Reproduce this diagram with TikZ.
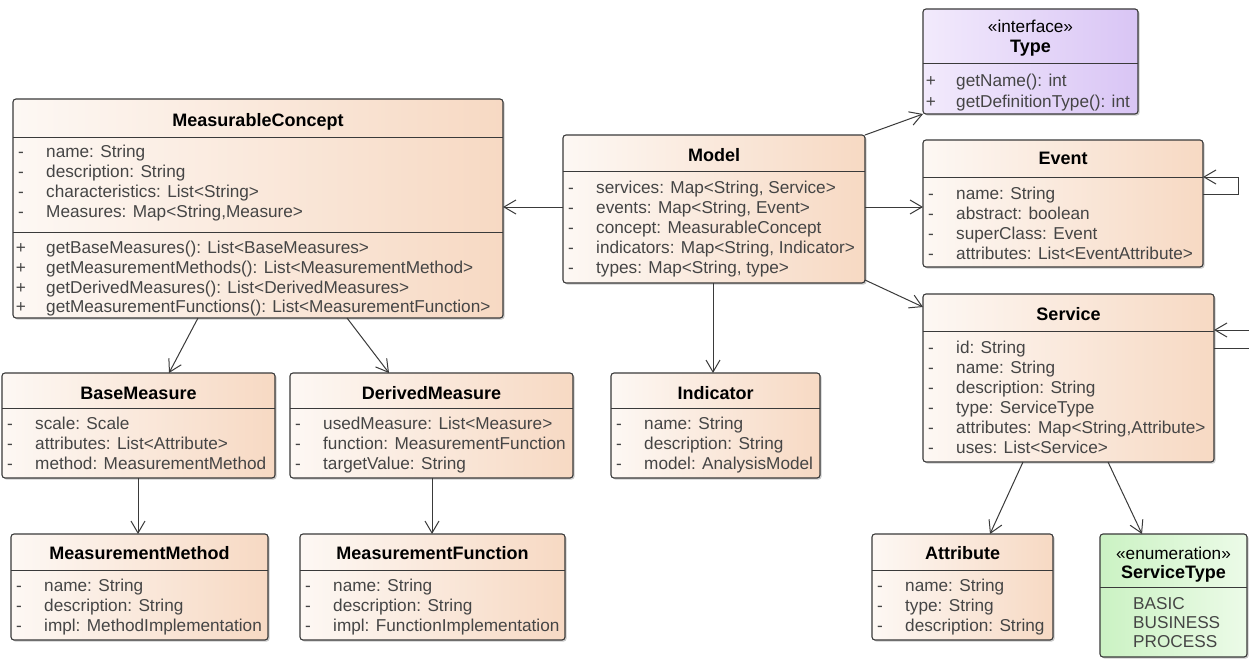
\documentclass[tikz,border=0pt]{standalone}
\usepackage{fontspec}
\setmainfont{Liberation Sans}
\usetikzlibrary{arrows.meta,shadows,calc}
\definecolor{peachL}{HTML}{FDF8F4}
\definecolor{peachR}{HTML}{F7D9C3}
\definecolor{purpL}{HTML}{F2EAFC}
\definecolor{purpR}{HTML}{D9C5F5}
\definecolor{grnL}{HTML}{CBF2C3}
\definecolor{grnR}{HTML}{ECFBE8}
\definecolor{edge}{HTML}{3A3A3A}
\definecolor{txt}{HTML}{454545}
\tikzset{
  box/.style={draw=edge, line width=1.1pt, rounded corners=3pt, inner sep=0pt, outer sep=0pt,
    drop shadow={shadow xshift=1.6pt, shadow yshift=-1.6pt, fill=black!40}},
  peach/.style={left color=peachL, right color=peachR},
  purple/.style={left color=purpL, right color=purpR},
  green/.style={left color=grnL, right color=grnR},
  divline/.style={draw=edge, line width=1pt},
  attr/.style={anchor=base west, inner sep=0pt, text=txt, font=\fontsize{17.2}{20}\selectfont},
  vis/.style={anchor=base, inner sep=0pt, text=txt, font=\fontsize{17.2}{20}\selectfont},
  ctitle/.style={anchor=base, inner sep=0pt, text=black, font=\bfseries\fontsize{18}{20}\selectfont},
  stereo/.style={anchor=base, inner sep=0pt, text=black, font=\fontsize{17.2}{20}\selectfont},
  assoc/.style={draw=edge, line width=1pt, -{Straight Barb[length=12pt,width=14pt]}},
}
\newcommand\umlclass[6]{%
  \node[box,#6,anchor=north west,minimum width={#4-#2}, minimum height={#5-#3}] (#1) at (#2,#3) {};}
\newcommand\urow[4]{%
  \node[vis] (#1v) at (\cl+8,#2+6) {#3};
  \node[attr] (#1) at (\cl+33,#2+6) {#4};}
\newcommand\hdiv[2]{\draw[divline] (#1.west |- 0,#2) -- (#1.east |- 0,#2);}
\begin{document}
\begin{tikzpicture}[x=1pt,y=-1pt]
\useasboundingbox (0,0) rectangle (1249,658);
\fill[white] (0,0) rectangle (1249,658);
\clip (0,0) rectangle (1249,658);

% ---------- classes ----------
\umlclass{type}{923}{9}{1138}{114}{purple}
\umlclass{mc}{13}{99}{503}{318}{peach}
\umlclass{model}{563}{135}{865}{283}{peach}
\umlclass{event}{923}{140}{1203}{267}{peach}
\umlclass{svc}{923}{294}{1214}{462}{peach}
\umlclass{bm}{2}{373}{275}{478}{peach}
\umlclass{dm}{290}{373}{573}{478}{peach}
\umlclass{ind}{611}{373}{820}{478}{peach}
\umlclass{mm}{11}{534}{268}{640}{peach}
\umlclass{mf}{300}{534}{565}{640}{peach}
\umlclass{attr}{872}{534}{1053}{640}{peach}
\umlclass{st}{1100}{534}{1247}{657}{green}

% ---------- Type ----------
\node[stereo] (type-s) at (1030.5,33) {«interface»};
\node[ctitle] (type-t) at (1030.5,53) {Type};
\hdiv{type}{64}
\def\cl{923}
\urow{type-1}{81}{+}{getName(): int}
\urow{type-2}{101}{+}{getDefinitionType(): int}

% ---------- MeasurableConcept ----------
\node[ctitle] (mc-t) at (258,126) {MeasurableConcept};
\hdiv{mc}{137}
\hdiv{mc}{232}
\def\cl{13}
\urow{mc-1}{151}{-}{name: String}
\urow{mc-2}{171}{-}{description: String}
\urow{mc-3}{191}{-}{characteristics: List<String>}
\urow{mc-4}{211}{-}{Measures: Map<String,Measure>}
\urow{mc-5}{247}{+}{getBaseMeasures(): List<BaseMeasures>}
\urow{mc-6}{267}{+}{getMeasurementMethods(): List<MeasurementMethod>}
\urow{mc-7}{287}{+}{getDerivedMeasures(): List<DerivedMeasures>}
\urow{mc-8}{306}{+}{getMeasurementFunctions(): List<MeasurementFunction>}

% ---------- Model ----------
\node[ctitle] (model-t) at (714,161) {Model};
\hdiv{model}{171}
\def\cl{563}
\urow{model-1}{187}{-}{services: Map<String, Service>}
\urow{model-2}{207}{-}{events: Map<String, Event>}
\urow{model-3}{227}{-}{concept: MeasurableConcept}
\urow{model-4}{247}{-}{indicators: Map<String, Indicator>}
\urow{model-5}{267}{-}{types: Map<String, type>}

% ---------- Event ----------
\node[ctitle] (event-t) at (1063,164) {Event};
\hdiv{event}{177}
\def\cl{923}
\urow{event-1}{193}{-}{name: String}
\urow{event-2}{213}{-}{abstract: boolean}
\urow{event-3}{233}{-}{superClass: Event}
\urow{event-4}{253}{-}{attributes: List<EventAttribute>}

% ---------- Service ----------
\node[ctitle] (svc-t) at (1068.5,320) {Service};
\hdiv{svc}{331}
\def\cl{923}
\urow{svc-1}{347}{-}{id: String}
\urow{svc-2}{367}{-}{name: String}
\urow{svc-3}{387}{-}{description: String}
\urow{svc-4}{407}{-}{type: ServiceType}
\urow{svc-5}{427}{-}{attributes: Map<String,Attribute>}
\urow{svc-6}{447}{-}{uses: List<Service>}

% ---------- BaseMeasure ----------
\node[ctitle] (bm-t) at (138.5,399) {BaseMeasure};
\hdiv{bm}{408}
\def\cl{2}
\urow{bm-1}{423}{-}{scale: Scale}
\urow{bm-2}{443}{-}{attributes: List<Attribute>}
\urow{bm-3}{463}{-}{method: MeasurementMethod}

% ---------- DerivedMeasure ----------
\node[ctitle] (dm-t) at (431.5,399) {DerivedMeasure};
\hdiv{dm}{408}
\def\cl{290}
\urow{dm-1}{423}{-}{usedMeasure: List<Measure>}
\urow{dm-2}{443}{-}{function: MeasurementFunction}
\urow{dm-3}{463}{-}{targetValue: String}

% ---------- Indicator ----------
\node[ctitle] (ind-t) at (715.5,399) {Indicator};
\hdiv{ind}{408}
\def\cl{611}
\urow{ind-1}{423}{-}{name: String}
\urow{ind-2}{443}{-}{description: String}
\urow{ind-3}{463}{-}{model: AnalysisModel}

% ---------- MeasurementMethod ----------
\node[ctitle] (mm-t) at (139.5,559) {MeasurementMethod};
\hdiv{mm}{570}
\def\cl{11}
\urow{mm-1}{585}{-}{name: String}
\urow{mm-2}{605}{-}{description: String}
\urow{mm-3}{625}{-}{impl: MethodImplementation}

% ---------- MeasurementFunction ----------
\node[ctitle] (mf-t) at (432.5,559) {MeasurementFunction};
\hdiv{mf}{570}
\def\cl{300}
\urow{mf-1}{585}{-}{name: String}
\urow{mf-2}{605}{-}{description: String}
\urow{mf-3}{625}{-}{impl: FunctionImplementation}

% ---------- Attribute ----------
\node[ctitle] (attr-t) at (962.5,559) {Attribute};
\hdiv{attr}{570}
\def\cl{872}
\urow{attr-1}{585}{-}{name: String}
\urow{attr-2}{605}{-}{type: String}
\urow{attr-3}{625}{-}{description: String}

% ---------- ServiceType ----------
\node[stereo] (st-s) at (1173.5,559) {«enumeration»};
\node[ctitle] (st-t) at (1173.5,578) {ServiceType};
\hdiv{st}{587}
\node[attr] (st-1) at (1133,609) {BASIC};
\node[attr] (st-2) at (1133,628) {BUSINESS};
\node[attr] (st-3) at (1133,647) {PROCESS};

% ---------- connectors ----------
\draw[assoc] (model.west |- 0,207) -- (mc.east |- 0,207);
\draw[assoc] (model.north east) -- (type.south west);
\draw[assoc] (model.east |- 0,207) -- (event.west |- 0,207);
\draw[assoc] (model.east |- 0,280) -- (svc.west |- 0,307);
\draw[assoc] (model.south -| 713,0) -- (ind.north -| 713,0);
\draw[assoc] (mc.south -| 198,0) -- (bm.north -| 169,0);
\draw[assoc] (mc.south -| 347,0) -- (dm.north -| 389,0);
\draw[assoc] (bm.south -| 138,0) -- (mm.north -| 138,0);
\draw[assoc] (dm.south -| 432,0) -- (mf.north -| 432,0);
\draw[assoc] (svc.south -| 1023,0) -- (attr.north -| 990,0);
\draw[assoc] (svc.south -| 1108,0) -- (st.north -| 1142,0);
\coordinate (el1) at (1238,194);
\coordinate (el2) at (1238,177);
\draw[assoc] (event.east |- 0,194) -- (el1) -- (el2) -- (event.east |- 0,177);
\coordinate (sl1) at (1262,348);
\coordinate (sl2) at (1262,330);
\draw[assoc] (svc.east |- 0,348) -- (sl1) -- (sl2) -- (svc.east |- 0,330);
\end{tikzpicture}
\end{document}
